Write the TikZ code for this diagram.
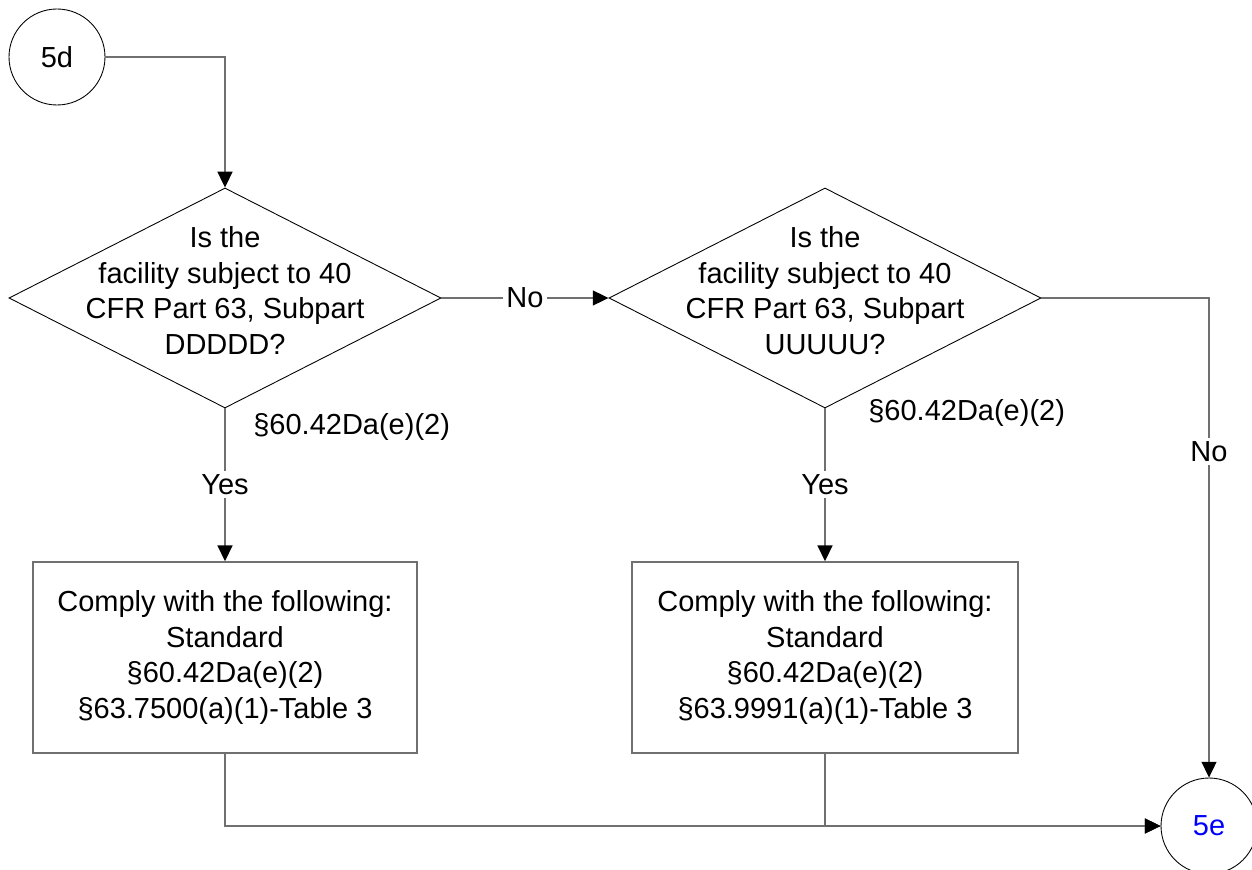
\documentclass[tikz,border=0pt]{standalone}
\usepackage{fontspec}
\setmainfont{Liberation Sans}
\usepackage{tikz}
\usetikzlibrary{shapes.geometric, arrows.meta}
\definecolor{linegray}{RGB}{112,112,112}
\tikzstyle{decision} = [diamond, draw=black, line width=0.5pt, minimum width=8.64cm, minimum height=4.4cm, inner sep=0pt]
\tikzstyle{question} = [align=center, inner sep=0pt]
\tikzstyle{process} = [rectangle, draw=linegray, line width=0.85pt, minimum width=7.68cm, minimum height=3.82cm, align=center]
\tikzstyle{connector} = [circle, draw=black, line width=0.5pt, minimum size=1.92cm, inner sep=0pt]
\tikzstyle{lbl} = [fill=white, inner sep=2pt]
\tikzstyle{arrow} = [line width=0.85pt, draw=linegray, -{Triangle[length=9pt, width=8.5pt, black]}]

\begin{document}
\begin{tikzpicture}[node distance=7.19cm, font=\fontsize{16.5}{20.2}\selectfont]
\useasboundingbox (-4.5,-11.42) rectangle (20.54,5.96);
\node (dec1) [decision] {};
\node (dec2) [decision, right of=dec1, xshift=4.81cm] {};
\node (q1) [question] at ([yshift=0.15cm]dec1) {Is the\\facility subject to 40\\CFR Part 63, Subpart\\DDDDD?};
\node (q2) [question] at ([yshift=0.15cm]dec2) {Is the\\facility subject to 40\\CFR Part 63, Subpart\\UUUUU?};
\node (start) [connector, above of=dec1, xshift=-3.36cm, yshift=-2.37cm] {5d};
\node (box1) [process, below of=dec1] {Comply with the following:\\Standard\\§60.42Da(e)(2)\\§63.7500(a)(1)-Table 3};
\node (box2) [process, below of=dec2, minimum width=7.72cm] {Comply with the following:\\Standard\\§60.42Da(e)(2)\\§63.9991(a)(1)-Table 3};
\node (next) [connector, below of=box2, xshift=7.68cm, yshift=3.82cm, text=blue] {5e};
\node (ref1) [anchor=west, inner sep=0pt] at ([xshift=0.56cm, yshift=-0.38cm]dec1.south) {§60.42Da(e)(2)};
\node (ref2) [anchor=west, inner sep=0pt] at ([xshift=0.86cm, yshift=-0.1cm]dec2.south) {§60.42Da(e)(2)};


\draw [arrow] (start.east) -| (dec1.north);
\draw [arrow] (dec1.east) -- node[lbl] {No} (dec2.west);
\draw [arrow] (dec2.east) -| node[lbl, pos=0.66] {No} (next.north);
\draw [arrow] (dec1.south) -- node[lbl] {Yes} (box1.north);
\draw [arrow] (dec2.south) -- node[lbl] {Yes} (box2.north);
\draw [arrow] (box1.south) |- (next.west);
\draw [arrow] (box2.south) |- (next.west);
\end{tikzpicture}
\end{document}
